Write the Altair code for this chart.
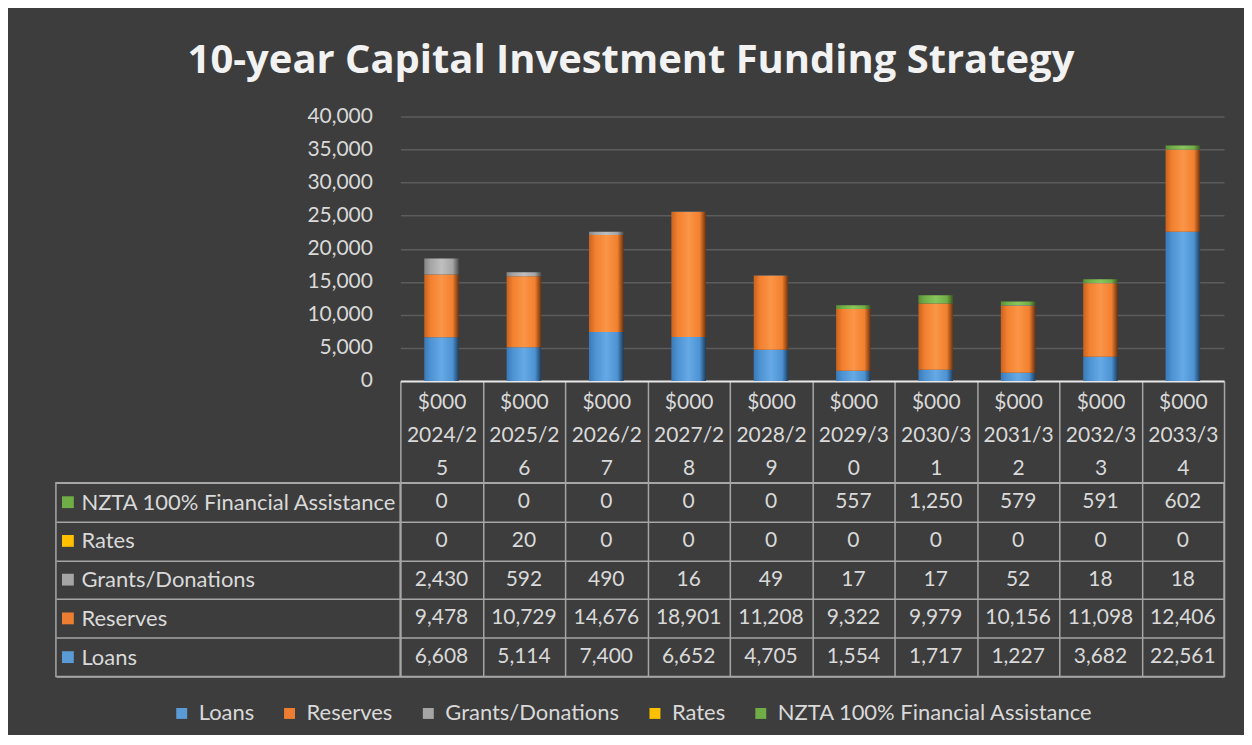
import altair as alt
import pandas as pd

# ---------------- data ----------------
years = ["2024/25", "2025/26", "2026/27", "2027/28", "2028/29",
         "2029/30", "2030/31", "2031/32", "2032/33", "2033/34"]
series = ["Loans", "Reserves", "Grants/Donations", "Rates",
          "NZTA 100% Financial Assistance"]
loans = [6608, 5114, 7400, 6652, 4705, 1554, 1717, 1227, 3682, 22561]
reserves = [9478, 10729, 14676, 18901, 11208, 9322, 9979, 10156, 11098, 12406]
grants = [2430, 592, 490, 16, 49, 17, 17, 52, 18, 18]
rates = [0, 20, 0, 0, 0, 0, 0, 0, 0, 0]
nzta = [0, 0, 0, 0, 0, 557, 1250, 579, 591, 602]
y_ticks = [0, 5000, 10000, 15000, 20000, 25000, 30000, 35000, 40000]

colors = ["#5b9bd5", "#ed7d31", "#a5a5a5", "#ffc000", "#70ad47"]
# bevel-like shading per series: (edge, base, highlight, dark edge)
shades = [
    ("#3b79b6", "#4d92d2", "#66a9e6", "#1e3d5c"),
    ("#c8621e", "#f2802f", "#fb9547", "#6a320f"),
    ("#848484", "#a5a5a5", "#bfbfbf", "#4c4c4c"),
    ("#c99700", "#ffc000", "#ffd24a", "#6e5300"),
    ("#5a8f38", "#70ad47", "#88c65c", "#38561f"),
]

values = [loans, reserves, grants, rates, nzta]
rows = []
for si, s in enumerate(series):
    for yi, yr in enumerate(years):
        rows.append({"year": yr, "series": s, "value": values[si][yi], "order": si})
df = pd.DataFrame(rows)
df_series = pd.DataFrame({"series": series})
table_order = list(reversed(series))

BG = "#3d3d3d"
TXT = "#d9d9d9"
GRID = "#a6a6a6"
FONT = "Lato"
FS = 21      # numbers
FSL = 22     # word labels


def grad(c):
    edge, base, light, dark = c
    return alt.LinearGradient(
        gradient="linear", x1=0, x2=1, y1=0, y2=0,
        stops=[alt.GradientStop(offset=0, color=edge),
               alt.GradientStop(offset=0.18, color=base),
               alt.GradientStop(offset=0.5, color=light),
               alt.GradientStop(offset=0.82, color=base),
               alt.GradientStop(offset=1, color=dark)])


band = alt.Scale(paddingInner=0, paddingOuter=0)

# ---------------- bars ----------------
xaxis = alt.Axis(title=None, orient="bottom", labelAngle=0,
                 domainColor="#e6e6e6", domainWidth=2,
                 tickBand="extent", tickSize=102, tickColor=GRID, tickWidth=1.5,
                 labelExpr="datum.label ? ['$000', substring(datum.label, 0, 6), substring(datum.label, 6)] : ''",
                 labelLineHeight=33, labelPadding=-91, labelBaseline="top",
                 labelFontSize=FS, labelColor=TXT, labelFont=FONT,
                 labelOverlap=False, grid=False)
yaxis = alt.Axis(title=None, values=y_ticks, format=",.0f", labelFontSize=FS,
                 labelColor=TXT, labelFont=FONT, labelPadding=28, ticks=False,
                 domain=False, grid=True, gridColor="#5c5c5c", gridWidth=1.5)

base = alt.Chart(df).transform_stack(
    stack="value", groupby=["year"], as_=["v0", "v1"],
    sort=[alt.SortField("order", order="ascending")])

layers = []
for i, s in enumerate(series):
    layers.append(
        base.transform_filter(alt.datum.order == i)
        .mark_bar(width=alt.RelativeBandSize(0.42), color=grad(shades[i]))
        .encode(
            x=alt.X("year:N", sort=years, scale=band, axis=xaxis),
            y=alt.Y("v0:Q", scale=alt.Scale(domain=[0, 40000], nice=False), axis=yaxis),
            y2="v1:Q",
        )
    )
bars = alt.layer(*layers).properties(width=825, height=265)

# ---------------- spacer (top-left) ----------------
spacer = alt.Chart(pd.DataFrame({"a": [0]})).mark_text().encode(
    text=alt.value("")).properties(width=345, height=265)

# ---------------- row labels with keys ----------------
keys = alt.Chart(df_series).mark_square(size=140, opacity=1).encode(
    x=alt.value(12),
    y=alt.Y("series:N", sort=table_order, scale=band,
            axis=alt.Axis(title=None, orient="left", labelAlign="left",
                          labelPadding=-25, labelFontSize=FSL, labelColor=TXT,
                          labelFont=FONT, labelLimit=0, ticks=False, domain=False,
                          grid=True, tickBand="extent", gridColor=GRID,
                          gridWidth=1.5, labelBaseline="middle")),
    color=alt.Color("series:N", scale=alt.Scale(domain=series, range=colors),
                    legend=alt.Legend(title=None, orient="none",
                                      legendX=115, legendY=587,
                                      direction="horizontal", symbolType="square",
                                      symbolSize=120, labelFontSize=FSL,
                                      labelColor=TXT, labelFont=FONT,
                                      labelOffset=6, columnPadding=24,
                                      labelLimit=0)),
).properties(width=345, height=194,
             view=alt.ViewBackground(stroke=GRID, strokeWidth=1.5))

# ---------------- value cells ----------------
cells = alt.Chart(df).mark_text(font=FONT, fontSize=FS, color=TXT).encode(
    x=alt.X("year:N", sort=years, scale=band,
            axis=alt.Axis(title=None, labels=False, ticks=False, domain=False,
                          grid=True, tickBand="extent", gridColor=GRID,
                          gridWidth=1.5)),
    y=alt.Y("series:N", sort=table_order, scale=band,
            axis=alt.Axis(title=None, labels=False, ticks=False, domain=False,
                          grid=True, tickBand="extent", gridColor=GRID,
                          gridWidth=1.5)),
    text=alt.Text("value:Q", format=","),
).properties(width=825, height=194,
             view=alt.ViewBackground(stroke=GRID, strokeWidth=1.5))

chart = alt.concat(
    spacer, bars, keys, cells, columns=2,
    spacing={"row": 102, "column": 0}, bounds="flush", align="each",
).properties(
    title=alt.TitleParams("10-year Capital Investment Funding Strategy",
                          fontSize=40, font="Open Sans", fontWeight="bold",
                          color="#f2f2f2", anchor="middle", offset=24, dx=-9),
    padding={"left": 47, "right": 19, "top": 33, "bottom": 10},
    background=BG,
).configure_view(stroke=None)

chart.save("out.html", embed_options={"renderer": "svg", "actions": False})
